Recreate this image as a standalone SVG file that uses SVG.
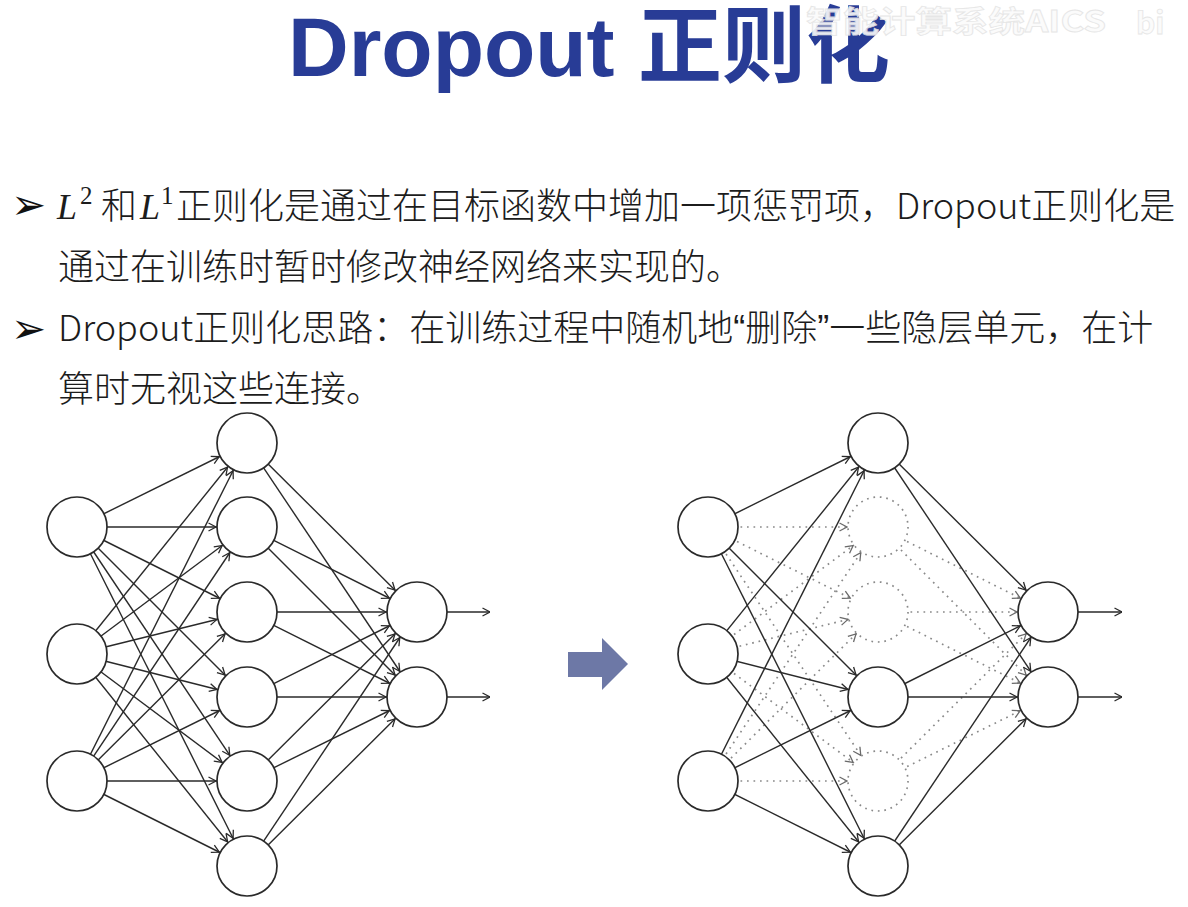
<svg xmlns="http://www.w3.org/2000/svg" width="1188" height="907" viewBox="0 0 1188 907">
  <style>
    .title { font-family: "Liberation Sans", "Noto Sans CJK SC", sans-serif; font-weight: bold; font-size: 84px; fill: #283c96; }
    .wm { font-family: "Noto Sans CJK SC", "Liberation Sans", sans-serif; font-weight: bold; font-size: 30px; fill: #fbfbfb; stroke: #e4e4e4; stroke-width: 0.8; opacity: 0.9; }
    .body { font-family: "Noto Sans CJK SC", sans-serif; font-weight: 300; font-size: 36px; fill: #1c1c1c; }
    .math { font-family: "Liberation Serif", "DejaVu Serif", serif; font-style: italic; font-size: 36px; fill: #1c1c1c; }
    .sup { font-family: "Liberation Serif", "DejaVu Serif", serif; font-size: 25px; fill: #1c1c1c; }
    .q { font-family: "Liberation Sans", sans-serif; }
    .bullet { font-family: "DejaVu Sans", sans-serif; font-size: 42px; fill: #111; }
    .e { stroke: #2a2a2a; stroke-width: 1.4; fill: none; marker-end: url(#ah); }
    .d { stroke: #8a8a8a; stroke-width: 1.7; stroke-dasharray: 1.7 4.8; fill: none; marker-end: url(#ahd); }
    .out { stroke: #2a2a2a; stroke-width: 1.4; fill: none; marker-end: url(#ao); }
    .n { fill: #fff; stroke: #2a2a2a; stroke-width: 1.7; }
    .nd { fill: #fff; stroke: #8a8a8a; stroke-width: 1.7; stroke-dasharray: 1.7 4.8; }
  </style>
  <defs>
    <!-- arrowheads set back by the node radius so the tip lands on the circle edge -->
    <marker id="ah" viewBox="-40 -6 40 12" markerWidth="40" markerHeight="12" markerUnits="userSpaceOnUse" refX="0" refY="0" orient="auto">
      <path d="M-38.5,-4 L-31,0 L-38.5,4" fill="none" stroke="#2a2a2a" stroke-width="1.3"/>
    </marker>
    <marker id="ahd" viewBox="-40 -6 40 12" markerWidth="40" markerHeight="12" markerUnits="userSpaceOnUse" refX="0" refY="0" orient="auto">
      <path d="M-38.5,-4 L-31,0 L-38.5,4" fill="none" stroke="#6a6a6a" stroke-width="1.3"/>
    </marker>
    <marker id="ao" viewBox="-10 -6 10 12" markerWidth="10" markerHeight="12" markerUnits="userSpaceOnUse" refX="0" refY="0" orient="auto">
      <path d="M-7.5,-4 L0,0 L-7.5,4" fill="none" stroke="#2a2a2a" stroke-width="1.3"/>
    </marker>
  </defs>

  <rect width="1188" height="907" fill="#ffffff"/>

  <!-- heading -->
  <text class="title" x="288" y="76">Dropout 正则化</text>
  <text class="wm" x="806" y="32" textLength="300" lengthAdjust="spacingAndGlyphs">智能计算系统AICS</text>
  <text class="wm" x="1136" y="34" font-size="34">bi</text>

  <!-- bullet points -->
  <text class="bullet" x="11" y="219">➢</text>
  <text class="math" x="57" y="219">L</text>
  <text class="sup" x="80" y="204">2</text>
  <text class="body" x="101" y="219" font-weight="700">和</text>
  <text class="math" x="140" y="219">L</text>
  <text class="sup" x="161" y="204">1</text>
  <text class="body" x="176" y="219">正则化是通过在目标函数中增加一项惩罚项，Dropout正则化是</text>
  <text class="body" x="58" y="280">通过在训练时暂时修改神经网络来实现的。</text>
  <text class="bullet" x="11" y="343">➢</text>
  <text class="body" x="58" y="341">Dropout正则化思路：在训练过程中随机地<tspan class="q">“</tspan>删除<tspan class="q">”</tspan>一些隐层单元，在计</text>
  <text class="body" x="58" y="402">算时无视这些连接。</text>

  <!-- connectors -->
  <g id="connectors">
    <!-- full network: input to hidden -->
    <line class="e" x1="77" y1="527" x2="247" y2="443"/>
    <line class="e" x1="77" y1="527" x2="247" y2="527"/>
    <line class="e" x1="77" y1="527" x2="247" y2="612"/>
    <line class="e" x1="77" y1="527" x2="247" y2="697"/>
    <line class="e" x1="77" y1="527" x2="247" y2="781"/>
    <line class="e" x1="77" y1="527" x2="247" y2="866"/>
    <line class="e" x1="77" y1="654" x2="247" y2="443"/>
    <line class="e" x1="77" y1="654" x2="247" y2="527"/>
    <line class="e" x1="77" y1="654" x2="247" y2="612"/>
    <line class="e" x1="77" y1="654" x2="247" y2="697"/>
    <line class="e" x1="77" y1="654" x2="247" y2="781"/>
    <line class="e" x1="77" y1="654" x2="247" y2="866"/>
    <line class="e" x1="77" y1="781" x2="247" y2="443"/>
    <line class="e" x1="77" y1="781" x2="247" y2="527"/>
    <line class="e" x1="77" y1="781" x2="247" y2="612"/>
    <line class="e" x1="77" y1="781" x2="247" y2="697"/>
    <line class="e" x1="77" y1="781" x2="247" y2="781"/>
    <line class="e" x1="77" y1="781" x2="247" y2="866"/>
    <!-- full network: hidden to output -->
    <line class="e" x1="247" y1="443" x2="417" y2="612"/>
    <line class="e" x1="247" y1="443" x2="417" y2="697"/>
    <line class="e" x1="247" y1="527" x2="417" y2="612"/>
    <line class="e" x1="247" y1="527" x2="417" y2="697"/>
    <line class="e" x1="247" y1="612" x2="417" y2="612"/>
    <line class="e" x1="247" y1="612" x2="417" y2="697"/>
    <line class="e" x1="247" y1="697" x2="417" y2="612"/>
    <line class="e" x1="247" y1="697" x2="417" y2="697"/>
    <line class="e" x1="247" y1="781" x2="417" y2="612"/>
    <line class="e" x1="247" y1="781" x2="417" y2="697"/>
    <line class="e" x1="247" y1="866" x2="417" y2="612"/>
    <line class="e" x1="247" y1="866" x2="417" y2="697"/>
    <line class="out" x1="447" y1="612" x2="490" y2="612"/>
    <line class="out" x1="447" y1="697" x2="490" y2="697"/>

    <!-- thinned network: dropped links first -->
    <line class="d" x1="708" y1="527" x2="878" y2="527"/>
    <line class="d" x1="708" y1="527" x2="878" y2="612"/>
    <line class="d" x1="708" y1="527" x2="878" y2="781"/>
    <line class="d" x1="708" y1="654" x2="878" y2="527"/>
    <line class="d" x1="708" y1="654" x2="878" y2="612"/>
    <line class="d" x1="708" y1="654" x2="878" y2="781"/>
    <line class="d" x1="708" y1="781" x2="878" y2="527"/>
    <line class="d" x1="708" y1="781" x2="878" y2="612"/>
    <line class="d" x1="708" y1="781" x2="878" y2="781"/>
    <line class="d" x1="878" y1="527" x2="1048" y2="612"/>
    <line class="d" x1="878" y1="527" x2="1048" y2="697"/>
    <line class="d" x1="878" y1="612" x2="1048" y2="612"/>
    <line class="d" x1="878" y1="612" x2="1048" y2="697"/>
    <line class="d" x1="878" y1="781" x2="1048" y2="612"/>
    <line class="d" x1="878" y1="781" x2="1048" y2="697"/>
    <!-- thinned network: kept links -->
    <line class="e" x1="708" y1="527" x2="878" y2="443"/>
    <line class="e" x1="708" y1="527" x2="878" y2="697"/>
    <line class="e" x1="708" y1="527" x2="878" y2="866"/>
    <line class="e" x1="708" y1="654" x2="878" y2="443"/>
    <line class="e" x1="708" y1="654" x2="878" y2="697"/>
    <line class="e" x1="708" y1="654" x2="878" y2="866"/>
    <line class="e" x1="708" y1="781" x2="878" y2="443"/>
    <line class="e" x1="708" y1="781" x2="878" y2="697"/>
    <line class="e" x1="708" y1="781" x2="878" y2="866"/>
    <line class="e" x1="878" y1="443" x2="1048" y2="612"/>
    <line class="e" x1="878" y1="443" x2="1048" y2="697"/>
    <line class="e" x1="878" y1="697" x2="1048" y2="612"/>
    <line class="e" x1="878" y1="697" x2="1048" y2="697"/>
    <line class="e" x1="878" y1="866" x2="1048" y2="612"/>
    <line class="e" x1="878" y1="866" x2="1048" y2="697"/>
    <line class="out" x1="1078" y1="612" x2="1122" y2="612"/>
    <line class="out" x1="1078" y1="697" x2="1122" y2="697"/>
  </g>

  <!-- full network nodes -->
  <g id="a-in1"><circle class="n" cx="77" cy="527" r="30"/></g>
  <g id="a-in2"><circle class="n" cx="77" cy="654" r="30"/></g>
  <g id="a-in3"><circle class="n" cx="77" cy="781" r="30"/></g>
  <g id="a-h1"><circle class="n" cx="247" cy="443" r="30"/></g>
  <g id="a-h2"><circle class="n" cx="247" cy="527" r="30"/></g>
  <g id="a-h3"><circle class="n" cx="247" cy="612" r="30"/></g>
  <g id="a-h4"><circle class="n" cx="247" cy="697" r="30"/></g>
  <g id="a-h5"><circle class="n" cx="247" cy="781" r="30"/></g>
  <g id="a-h6"><circle class="n" cx="247" cy="866" r="30"/></g>
  <g id="a-out1"><circle class="n" cx="417" cy="612" r="30"/></g>
  <g id="a-out2"><circle class="n" cx="417" cy="697" r="30"/></g>

  <!-- transition arrow -->
  <g id="step-arrow">
    <polygon points="568,652 602,652 602,638 628,664 602,690 602,677 568,677" fill="#6d78a6"/>
  </g>

  <!-- thinned network nodes -->
  <g id="b-in1"><circle class="n" cx="708" cy="527" r="30"/></g>
  <g id="b-in2"><circle class="n" cx="708" cy="654" r="30"/></g>
  <g id="b-in3"><circle class="n" cx="708" cy="781" r="30"/></g>
  <g id="b-h1"><circle class="n" cx="878" cy="443" r="30"/></g>
  <g id="b-h2"><circle class="nd" cx="878" cy="527" r="30"/></g>
  <g id="b-h3"><circle class="nd" cx="878" cy="612" r="30"/></g>
  <g id="b-h4"><circle class="n" cx="878" cy="697" r="30"/></g>
  <g id="b-h5"><circle class="nd" cx="878" cy="781" r="30"/></g>
  <g id="b-h6"><circle class="n" cx="878" cy="866" r="30"/></g>
  <g id="b-out1"><circle class="n" cx="1048" cy="612" r="30"/></g>
  <g id="b-out2"><circle class="n" cx="1048" cy="697" r="30"/></g>
</svg>
